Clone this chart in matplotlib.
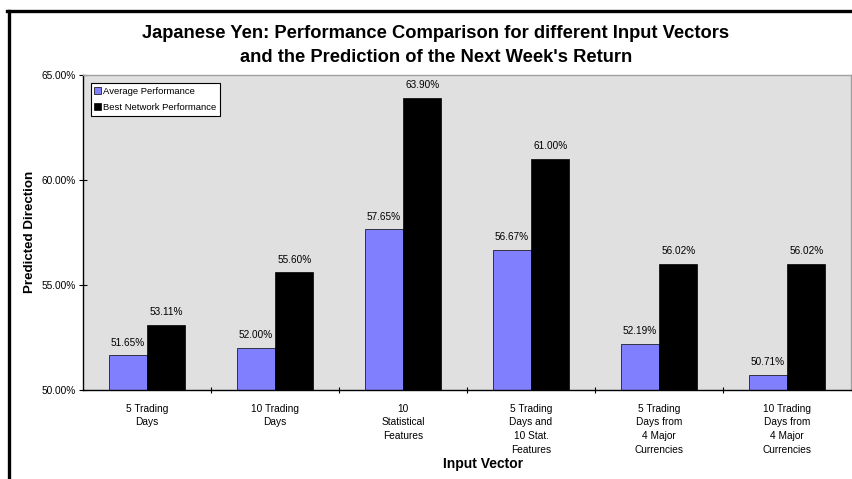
import matplotlib
matplotlib.use("Agg")
import matplotlib.pyplot as plt
import numpy as np
from matplotlib.lines import Line2D

plt.rcParams['font.family'] = ['Liberation Sans', 'DejaVu Sans']

categories = ["5 Trading\nDays", "10 Trading\nDays", "10\nStatistical\nFeatures",
              "5 Trading\nDays and\n10 Stat.\nFeatures", "5 Trading\nDays from\n4 Major\nCurrencies",
              "10 Trading\nDays from\n4 Major\nCurrencies"]
avg_perf = [51.65, 52.00, 57.65, 56.67, 52.19, 50.71]
best_perf = [53.11, 55.60, 63.90, 61.00, 56.02, 56.02]
y_ticks = [50, 55, 60, 65]

W, H = 852, 479
fig = plt.figure(figsize=(W / 100, H / 100), dpi=100)
fig.patch.set_facecolor("white")

# outer chart frame (only top and left visible, rest cropped)
fig.add_artist(Line2D([7 / W, 1], [1 - 11 / H, 1 - 11 / H], color="black", lw=2.4))
fig.add_artist(Line2D([8.5 / W, 8.5 / W], [0, 1 - 11 / H], color="black", lw=2.4))

ax = fig.add_axes([83 / W, 1 - 390 / H, 768 / W, 315 / H])
ax.set_facecolor("#E0E0E0")

x = np.arange(len(categories))
bw = 0.3
ax.bar(x - bw / 2, np.array(avg_perf) - 50, bw, bottom=50, color="#8080FF",
       edgecolor="black", lw=0.5, label="Average Performance")
ax.bar(x + bw / 2, np.array(best_perf) - 50, bw, bottom=50, color="black",
       edgecolor="black", lw=0.5, label="Best Network Performance")

for xi, v in zip(x - bw / 2, avg_perf):
    ax.annotate(f"{v:.2f}%", (xi, v), xytext=(0, 5.5), textcoords="offset points",
                ha="center", va="bottom", fontsize=7.2)
for xi, v in zip(x + bw / 2, best_perf):
    ax.annotate(f"{v:.2f}%", (xi, v), xytext=(0, 5.5), textcoords="offset points",
                ha="center", va="bottom", fontsize=7.2)

ax.set_xlim(-0.5, len(categories) - 0.5)
ax.set_ylim(50, 65)
ax.set_yticks(y_ticks)
ax.set_yticklabels([f"{t:.2f}%" for t in y_ticks], fontsize=7.3)
ax.set_xticks(x)
ax.set_xticklabels(categories, fontsize=7.3, linespacing=1.45, va="top")
ax.set_xticks(np.arange(0.5, len(categories) - 0.5, 1), minor=True)
ax.tick_params(axis="x", which="major", length=0, pad=10)
ax.tick_params(axis="x", which="minor", direction="inout", length=5, width=0.8)
ax.tick_params(axis="y", direction="inout", length=6, width=0.8, pad=2)

for s in ["left", "bottom"]:
    ax.spines[s].set_color("black")
    ax.spines[s].set_linewidth(1)
for s in ["top", "right"]:
    ax.spines[s].set_color("#A0A0A0")
    ax.spines[s].set_linewidth(1)

leg = ax.legend(loc="upper left", bbox_to_anchor=(0.01, 0.975), fontsize=6.8,
                frameon=True, fancybox=False, edgecolor="black", framealpha=1,
                handlelength=0.7, handleheight=0.7, handletextpad=0.2,
                borderpad=0.4, labelspacing=0.75, borderaxespad=0)
leg.get_frame().set_linewidth(0.8)

fig.text(436 / W, 1 - 33 / H, "Japanese Yen: Performance Comparison for different Input Vectors",
         ha="center", va="center", fontsize=13.2, fontweight="bold")
fig.text(436 / W, 1 - 57 / H, "and the Prediction of the Next Week's Return",
         ha="center", va="center", fontsize=13.2, fontweight="bold")
fig.text(30 / W, 1 - 232 / H, "Predicted Direction", rotation=90, ha="center", va="center",
         fontsize=9.6, fontweight="bold")
fig.text(483 / W, 1 - 464 / H, "Input Vector", ha="center", va="center",
         fontsize=10, fontweight="bold")

fig.savefig("out.png", dpi=100)
